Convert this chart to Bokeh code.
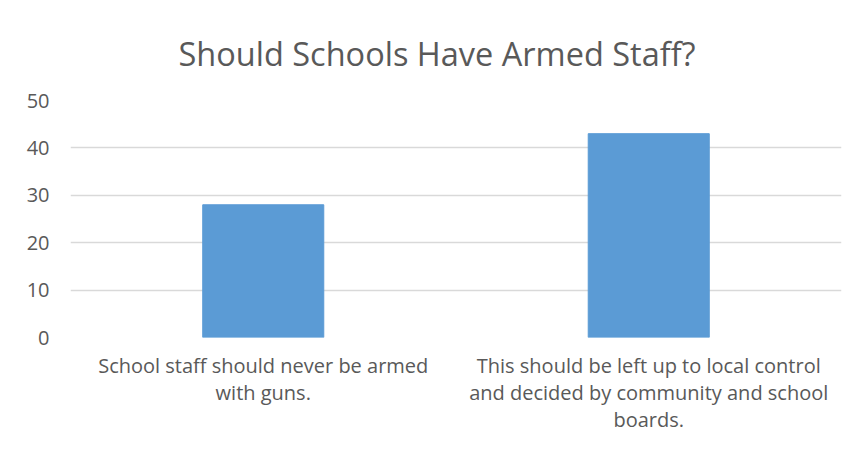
from bokeh.plotting import figure
from bokeh.models import ColumnDataSource, Range1d, FixedTicker
from bokeh.embed import file_html
from bokeh.resources import INLINE

title_text = "Should Schools Have Armed Staff?"
categories = [
    "School staff should never be armed\nwith guns.",
    "This should be left up to local control\nand decided by community and school\nboards.",
]
values = [28, 43]
y_ticks = [0, 10, 20, 30, 40, 50]

TEXT = "#595959"
FONT = "Open Sans"

source = ColumnDataSource(data=dict(cat=categories, val=values))

p = figure(
    x_range=categories,
    y_range=Range1d(0, 50),
    width=857, height=447,
    output_backend="svg",
    toolbar_location=None,
    min_border_left=70, min_border_right=16,
    min_border_top=100, min_border_bottom=110,
)
p.title.text = title_text
p.title.align = "left"
p.title.offset = 108
p.title.text_font = FONT
p.title.text_font_size = "32.5px"
p.title.text_font_style = "normal"
p.title.text_color = TEXT
p.title.text_line_height = 0.8
p.title.standoff = 49

p.vbar(x="cat", top="val", width=0.314, source=source,
       fill_color="#5B9BD5", line_color="#5B9BD5")

p.outline_line_color = None
p.xgrid.grid_line_color = None
p.ygrid.grid_line_color = "#D9D9D9"
p.ygrid.grid_line_width = 1.5
p.yaxis.ticker = FixedTicker(ticks=y_ticks)

for ax in (p.xaxis, p.yaxis):
    ax.axis_line_color = None
    ax.major_tick_line_color = None
    ax.minor_tick_line_color = None
    ax.major_label_text_font = FONT
    ax.major_label_text_color = TEXT

p.yaxis.major_label_text_font_size = "20px"
p.xaxis.major_label_text_font_size = "20px"
p.yaxis.major_label_standoff = 15
p.xaxis.major_label_standoff = 8
p.xaxis.major_label_text_line_height = 1.0
p.xaxis.major_label_text_align = "center"

open("out.html", "w").write(file_html(p, INLINE))
